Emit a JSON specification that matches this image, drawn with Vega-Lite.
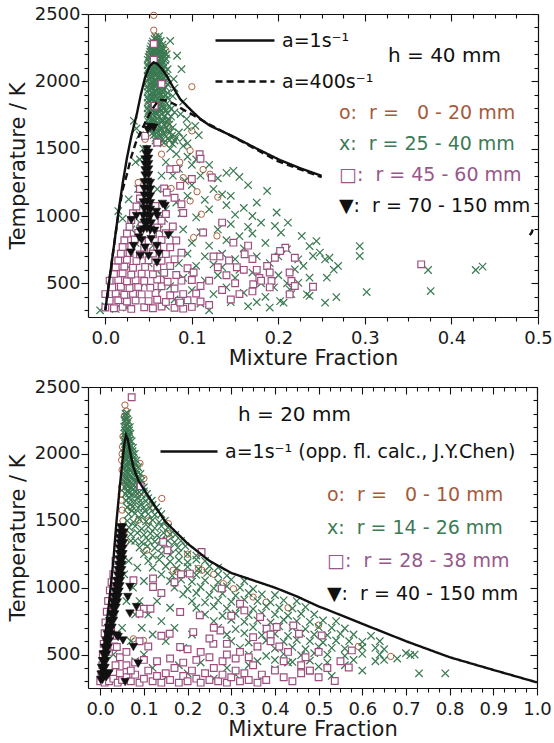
{
"$schema": "https://vega.github.io/schema/vega-lite/v6.json",
"background": "white",
"padding": {"left": 7, "top": 5, "right": 0, "bottom": 0},
"spacing": 10,
"datasets": {
"c40": [{"z":0.056,"T":2490},{"z":0.056,"T":2380},{"z":0.059,"T":2330},{"z":0.061,"T":2290},{"z":0.07,"T":2230},{"z":0.064,"T":2260},{"z":0.051,"T":2200},{"z":0.066,"T":2165},{"z":0.06,"T":2120},{"z":0.068,"T":2080},{"z":0.1,"T":1960},{"z":0.066,"T":1930},{"z":0.071,"T":1707},{"z":0.062,"T":1860},{"z":0.057,"T":1800},{"z":0.079,"T":1571},{"z":0.1,"T":1632},{"z":0.098,"T":1486},{"z":0.065,"T":1459},{"z":0.121,"T":1310},{"z":0.113,"T":1345},{"z":0.038,"T":1249},{"z":0.073,"T":1640},{"z":0.098,"T":1112},{"z":0.111,"T":1013},{"z":0.102,"T":840},{"z":0.129,"T":852},{"z":0.046,"T":1570},{"z":0.086,"T":1400},{"z":0.053,"T":1650},{"z":0.09,"T":1285},{"z":0.068,"T":1540},{"z":0.076,"T":1205},{"z":0.13,"T":1140},{"z":0.106,"T":1180},{"z":0.048,"T":1980},{"z":0.054,"T":2050}],
"x40": [{"z":0.058,"T":2330},{"z":0.062,"T":2335},{"z":0.055,"T":2295},{"z":0.06,"T":2290},{"z":0.064,"T":2300},{"z":0.053,"T":2260},{"z":0.057,"T":2255},{"z":0.061,"T":2265},{"z":0.066,"T":2250},{"z":0.052,"T":2220},{"z":0.056,"T":2225},{"z":0.06,"T":2215},{"z":0.064,"T":2222},{"z":0.068,"T":2212},{"z":0.05,"T":2180},{"z":0.054,"T":2185},{"z":0.058,"T":2175},{"z":0.062,"T":2182},{"z":0.066,"T":2178},{"z":0.07,"T":2170},{"z":0.051,"T":2140},{"z":0.055,"T":2135},{"z":0.059,"T":2145},{"z":0.063,"T":2138},{"z":0.067,"T":2142},{"z":0.05,"T":2100},{"z":0.054,"T":2095},{"z":0.058,"T":2105},{"z":0.062,"T":2098},{"z":0.066,"T":2102},{"z":0.072,"T":2090},{"z":0.052,"T":2060},{"z":0.056,"T":2065},{"z":0.06,"T":2055},{"z":0.064,"T":2062},{"z":0.068,"T":2058},{"z":0.05,"T":2020},{"z":0.054,"T":2025},{"z":0.058,"T":2015},{"z":0.062,"T":2022},{"z":0.066,"T":2018},{"z":0.07,"T":2010},{"z":0.052,"T":1980},{"z":0.056,"T":1985},{"z":0.06,"T":1975},{"z":0.064,"T":1982},{"z":0.072,"T":1978},{"z":0.05,"T":1940},{"z":0.054,"T":1945},{"z":0.058,"T":1935},{"z":0.062,"T":1942},{"z":0.067,"T":1938},{"z":0.052,"T":1900},{"z":0.056,"T":1905},{"z":0.06,"T":1895},{"z":0.065,"T":1902},{"z":0.07,"T":1898},{"z":0.078,"T":1890},{"z":0.05,"T":1860},{"z":0.054,"T":1865},{"z":0.058,"T":1855},{"z":0.063,"T":1862},{"z":0.068,"T":1858},{"z":0.052,"T":1820},{"z":0.056,"T":1825},{"z":0.061,"T":1815},{"z":0.066,"T":1822},{"z":0.074,"T":1818},{"z":0.05,"T":1780},{"z":0.054,"T":1785},{"z":0.059,"T":1775},{"z":0.064,"T":1782},{"z":0.07,"T":1778},{"z":0.08,"T":1770},{"z":0.052,"T":1740},{"z":0.057,"T":1745},{"z":0.062,"T":1735},{"z":0.068,"T":1742},{"z":0.076,"T":1738},{"z":0.05,"T":1700},{"z":0.055,"T":1705},{"z":0.06,"T":1695},{"z":0.066,"T":1702},{"z":0.072,"T":1698},{"z":0.053,"T":1660},{"z":0.058,"T":1665},{"z":0.064,"T":1655},{"z":0.07,"T":1662},{"z":0.078,"T":1658},{"z":0.055,"T":1620},{"z":0.061,"T":1625},{"z":0.067,"T":1615},{"z":0.075,"T":1622},{"z":0.058,"T":1580},{"z":0.064,"T":1585},{"z":0.072,"T":1575},{"z":0.082,"T":1582},{"z":0.06,"T":1540},{"z":0.068,"T":1545},{"z":0.078,"T":1535},
{"z":0.057,"T":2315},{"z":0.061,"T":2312},{"z":0.054,"T":2278},{"z":0.058,"T":2275},{"z":0.062,"T":2280},{"z":0.066,"T":2272},{"z":0.052,"T":2240},{"z":0.055,"T":2238},{"z":0.059,"T":2242},{"z":0.063,"T":2236},{"z":0.067,"T":2240},{"z":0.051,"T":2200},{"z":0.055,"T":2203},{"z":0.059,"T":2198},{"z":0.063,"T":2202},{"z":0.067,"T":2196},{"z":0.071,"T":2200},{"z":0.049,"T":2160},{"z":0.053,"T":2158},{"z":0.057,"T":2162},{"z":0.061,"T":2156},{"z":0.065,"T":2160},{"z":0.069,"T":2155},{"z":0.049,"T":2120},{"z":0.053,"T":2118},{"z":0.057,"T":2122},{"z":0.061,"T":2116},{"z":0.065,"T":2120},{"z":0.069,"T":2115},{"z":0.049,"T":2080},{"z":0.053,"T":2078},{"z":0.057,"T":2082},{"z":0.061,"T":2076},{"z":0.065,"T":2080},{"z":0.07,"T":2075},{"z":0.049,"T":2040},{"z":0.053,"T":2038},{"z":0.057,"T":2042},{"z":0.061,"T":2036},{"z":0.065,"T":2040},{"z":0.07,"T":2035},{"z":0.049,"T":2000},{"z":0.053,"T":1998},{"z":0.057,"T":2002},{"z":0.061,"T":1996},{"z":0.065,"T":2000},{"z":0.069,"T":1995},{"z":0.049,"T":1960},{"z":0.053,"T":1958},{"z":0.057,"T":1962},{"z":0.061,"T":1956},{"z":0.065,"T":1960},{"z":0.07,"T":1955},{"z":0.049,"T":1920},{"z":0.053,"T":1918},{"z":0.057,"T":1922},{"z":0.061,"T":1916},{"z":0.066,"T":1920},{"z":0.072,"T":1915},{"z":0.049,"T":1880},{"z":0.053,"T":1878},{"z":0.057,"T":1882},{"z":0.061,"T":1876},{"z":0.066,"T":1880},{"z":0.072,"T":1875},{"z":0.049,"T":1840},{"z":0.053,"T":1838},{"z":0.057,"T":1842},{"z":0.061,"T":1836},{"z":0.066,"T":1840},{"z":0.071,"T":1835},{"z":0.049,"T":1800},{"z":0.053,"T":1798},{"z":0.058,"T":1802},{"z":0.063,"T":1796},{"z":0.068,"T":1800},{"z":0.076,"T":1795},{"z":0.049,"T":1760},{"z":0.054,"T":1758},{"z":0.059,"T":1762},{"z":0.065,"T":1756},{"z":0.072,"T":1760},{"z":0.05,"T":1720},{"z":0.055,"T":1718},{"z":0.06,"T":1722},{"z":0.066,"T":1716},{"z":0.073,"T":1720},{"z":0.051,"T":1680},{"z":0.056,"T":1678},{"z":0.062,"T":1682},{"z":0.068,"T":1676},{"z":0.074,"T":1680},{"z":0.053,"T":1640},{"z":0.059,"T":1638},{"z":0.065,"T":1642},{"z":0.072,"T":1636},{"z":0.056,"T":1600},{"z":0.062,"T":1598},{"z":0.069,"T":1602},{"z":0.077,"T":1596},{"z":0.058,"T":1560},{"z":0.065,"T":1558},{"z":0.074,"T":1562},
{"z":0.083,"T":2190},{"z":0.088,"T":2090},{"z":0.079,"T":2017},{"z":0.087,"T":1757},{"z":0.094,"T":1720},{"z":0.104,"T":1670},{"z":0.108,"T":1600},{"z":0.09,"T":1850},{"z":0.075,"T":2300},{"z":0.08,"T":1950},{"z":0.095,"T":1540},{"z":0.09,"T":1580},{"z":0.095,"T":1660},
{"z":0.033,"T":1707},{"z":0.036,"T":1650},{"z":0.04,"T":1600},{"z":0.044,"T":1500},{"z":0.04,"T":1420},{"z":0.027,"T":1124},{"z":0.015,"T":1037},{"z":0.02,"T":980},{"z":0.03,"T":900},{"z":0.035,"T":800},{"z":0.04,"T":950},{"z":0.042,"T":1080},{"z":0.038,"T":1200},{"z":0.035,"T":1400},{"z":-0.006,"T":300},{"z":0.0,"T":330},{"z":0.005,"T":350},{"z":0.012,"T":310},{"z":0.02,"T":400},{"z":0.03,"T":600},{"z":0.025,"T":320},
{"z":0.075,"T":1500},{"z":0.082,"T":1460},{"z":0.09,"T":1520},{"z":0.095,"T":1440},{"z":0.1,"T":1380},{"z":0.105,"T":1420},{"z":0.085,"T":1350},{"z":0.078,"T":1300},{"z":0.092,"T":1260},{"z":0.1,"T":1230},{"z":0.11,"T":1300},{"z":0.12,"T":1380},{"z":0.13,"T":1280},{"z":0.14,"T":1320},{"z":0.148,"T":1335},{"z":0.155,"T":1290},{"z":0.125,"T":1200},{"z":0.135,"T":1160},{"z":0.115,"T":1120},{"z":0.095,"T":1150},{"z":0.082,"T":1100},{"z":0.07,"T":1050},{"z":0.088,"T":1020},{"z":0.105,"T":990},{"z":0.12,"T":1050},{"z":0.14,"T":1080},{"z":0.15,"T":1010},{"z":0.16,"T":1060},{"z":0.17,"T":1000},{"z":0.175,"T":1100},{"z":0.18,"T":950},{"z":0.165,"T":920},{"z":0.145,"T":940},{"z":0.13,"T":900},{"z":0.11,"T":880},{"z":0.09,"T":900},{"z":0.075,"T":860},{"z":0.1,"T":800},{"z":0.12,"T":780},{"z":0.14,"T":820},{"z":0.155,"T":850},{"z":0.17,"T":870},{"z":0.185,"T":800},{"z":0.187,"T":1186},{"z":0.196,"T":926},{"z":0.198,"T":1026},{"z":0.211,"T":951},{"z":0.203,"T":877},{"z":0.21,"T":753},{"z":0.16,"T":760},{"z":0.135,"T":720},{"z":0.115,"T":700},{"z":0.095,"T":720},{"z":0.085,"T":650},{"z":0.105,"T":630},{"z":0.125,"T":640},{"z":0.15,"T":680},{"z":0.175,"T":700},{"z":0.19,"T":650},{"z":0.2,"T":700},{"z":0.219,"T":604},{"z":0.223,"T":678},{"z":0.227,"T":852},{"z":0.24,"T":703},{"z":0.236,"T":777},{"z":0.244,"T":814},{"z":0.248,"T":728},{"z":0.254,"T":678},{"z":0.259,"T":690},{"z":0.269,"T":629},{"z":0.264,"T":601},{"z":0.256,"T":542},{"z":0.229,"T":629},{"z":0.236,"T":542},{"z":0.223,"T":504},{"z":0.213,"T":455},{"z":0.202,"T":368},{"z":0.206,"T":356},{"z":0.233,"T":418},{"z":0.236,"T":406},{"z":0.267,"T":398},{"z":0.254,"T":356},{"z":0.294,"T":777},{"z":0.294,"T":703},{"z":0.302,"T":435},{"z":0.373,"T":599},{"z":0.376,"T":443},{"z":0.428,"T":599},{"z":0.436,"T":624},
{"z":0.065,"T":560},{"z":0.075,"T":480},{"z":0.08,"T":380},{"z":0.09,"T":540},{"z":0.1,"T":450},{"z":0.11,"T":350},{"z":0.115,"T":520},{"z":0.125,"T":420},{"z":0.13,"T":560},{"z":0.14,"T":470},{"z":0.145,"T":360},{"z":0.15,"T":540},{"z":0.16,"T":430},{"z":0.165,"T":330},{"z":0.17,"T":580},{"z":0.18,"T":500},{"z":0.185,"T":400},{"z":0.195,"T":470},{"z":0.1,"T":600},{"z":0.12,"T":300},{"z":0.07,"T":330},{"z":0.06,"T":420},{"z":0.135,"T":620},{"z":0.155,"T":600},{"z":0.175,"T":360},{"z":0.19,"T":320},{"z":0.045,"T":500},{"z":0.05,"T":650},{"z":0.055,"T":780},{"z":0.062,"T":900},{"z":0.068,"T":980},{"z":0.06,"T":1200},{"z":0.065,"T":1300},{"z":0.07,"T":1400},{"z":0.2,"T":560},{"z":0.21,"T":500},{"z":0.215,"T":420},{"z":0.165,"T":1230},{"z":0.145,"T":1150},{"z":0.08,"T":1560},{"z":0.085,"T":1620}],
"s40": [{"z":0.0,"T":320},{"z":0.01,"T":315},{"z":0.02,"T":325},{"z":0.03,"T":310},{"z":0.045,"T":322},{"z":0.055,"T":315},{"z":0.065,"T":328},{"z":0.08,"T":318},{"z":0.09,"T":312},{"z":0.1,"T":325},{"z":0.005,"T":370},{"z":0.015,"T":375},{"z":0.025,"T":365},{"z":0.035,"T":372},{"z":0.05,"T":368},{"z":0.06,"T":378},{"z":0.07,"T":362},{"z":0.085,"T":370},{"z":0.095,"T":375},{"z":0.11,"T":365},{"z":0.0,"T":420},{"z":0.012,"T":425},{"z":0.022,"T":415},{"z":0.032,"T":422},{"z":0.042,"T":418},{"z":0.058,"T":428},{"z":0.075,"T":412},{"z":0.09,"T":420},{"z":0.105,"T":425},{"z":0.008,"T":470},{"z":0.018,"T":475},{"z":0.028,"T":465},{"z":0.038,"T":472},{"z":0.052,"T":468},{"z":0.065,"T":478},{"z":0.08,"T":462},{"z":0.005,"T":520},{"z":0.015,"T":525},{"z":0.025,"T":515},{"z":0.035,"T":522},{"z":0.045,"T":518},{"z":0.06,"T":528},{"z":0.072,"T":512},{"z":0.088,"T":520},{"z":0.1,"T":525},{"z":0.01,"T":570},{"z":0.02,"T":575},{"z":0.03,"T":565},{"z":0.042,"T":572},{"z":0.055,"T":568},{"z":0.068,"T":578},{"z":0.082,"T":562},{"z":0.012,"T":620},{"z":0.022,"T":625},{"z":0.032,"T":615},{"z":0.046,"T":622},{"z":0.06,"T":618},{"z":0.075,"T":628},{"z":0.095,"T":612},{"z":0.015,"T":670},{"z":0.025,"T":675},{"z":0.036,"T":665},{"z":0.05,"T":672},{"z":0.065,"T":668},{"z":0.08,"T":678},{"z":0.018,"T":720},{"z":0.028,"T":725},{"z":0.04,"T":715},{"z":0.055,"T":722},{"z":0.07,"T":718},{"z":0.088,"T":728},{"z":0.02,"T":770},{"z":0.03,"T":775},{"z":0.045,"T":765},{"z":0.06,"T":772},{"z":0.075,"T":768},{"z":0.022,"T":820},{"z":0.034,"T":825},{"z":0.05,"T":815},{"z":0.065,"T":822},{"z":0.082,"T":818},{"z":0.025,"T":870},{"z":0.038,"T":875},{"z":0.055,"T":865},{"z":0.07,"T":872},{"z":0.028,"T":920},{"z":0.042,"T":925},{"z":0.06,"T":915},{"z":0.078,"T":922},{"z":0.03,"T":970},{"z":0.046,"T":975},{"z":0.065,"T":965},{"z":0.032,"T":1020},{"z":0.05,"T":1025},{"z":0.07,"T":1015},{"z":0.09,"T":1022},{"z":0.036,"T":1070},{"z":0.058,"T":1075},{"z":0.04,"T":1130},{"z":0.08,"T":1135},{"z":0.04,"T":1200},{"z":0.068,"T":1205},
{"z":0.056,"T":2277},{"z":0.056,"T":2160},{"z":0.065,"T":1980},{"z":0.057,"T":1818},{"z":0.046,"T":1595},{"z":0.06,"T":1546},{"z":0.109,"T":1459},{"z":0.11,"T":1425},{"z":0.075,"T":1348},{"z":0.082,"T":1350},{"z":0.123,"T":1286},{"z":0.1,"T":1275},{"z":0.0865,"T":1224},{"z":0.071,"T":1174},{"z":0.088,"T":1087},{"z":0.135,"T":951},{"z":0.113,"T":877},{"z":0.148,"T":802},{"z":0.161,"T":716},{"z":0.17,"T":680},{"z":0.143,"T":670},{"z":0.187,"T":629},{"z":0.19,"T":580},{"z":0.102,"T":580},{"z":0.11,"T":480},{"z":0.0865,"T":357},{"z":0.12,"T":340},{"z":0.171,"T":493},{"z":0.178,"T":540},{"z":0.152,"T":620},{"z":0.132,"T":700},{"z":0.208,"T":765},{"z":0.202,"T":740},{"z":0.196,"T":690},{"z":0.219,"T":690},{"z":0.213,"T":580},{"z":0.215,"T":517},{"z":0.219,"T":480},{"z":0.192,"T":517},{"z":0.213,"T":418},{"z":0.24,"T":475},{"z":0.365,"T":641},{"z":0.125,"T":700},{"z":0.13,"T":620},{"z":0.14,"T":560},{"z":0.15,"T":500},{"z":0.16,"T":600},{"z":0.12,"T":520},{"z":0.135,"T":450},{"z":0.145,"T":380},{"z":0.155,"T":420},{"z":0.17,"T":440},{"z":0.18,"T":520},{"z":0.19,"T":470},{"z":0.175,"T":600},{"z":0.165,"T":780}],
"v40": [{"z":0.044,"T":900},{"z":0.048,"T":905},{"z":0.052,"T":895},{"z":0.045,"T":950},{"z":0.049,"T":955},{"z":0.053,"T":945},{"z":0.044,"T":1000},{"z":0.048,"T":1005},{"z":0.052,"T":995},{"z":0.045,"T":1050},{"z":0.049,"T":1055},{"z":0.052,"T":1045},{"z":0.044,"T":1100},{"z":0.048,"T":1105},{"z":0.052,"T":1095},{"z":0.045,"T":1150},{"z":0.049,"T":1155},{"z":0.052,"T":1145},{"z":0.045,"T":1200},{"z":0.049,"T":1205},{"z":0.052,"T":1195},{"z":0.045,"T":1250},{"z":0.049,"T":1255},{"z":0.052,"T":1245},{"z":0.046,"T":1300},{"z":0.05,"T":1305},{"z":0.046,"T":1340},{"z":0.05,"T":1345},{"z":0.046,"T":1380},{"z":0.05,"T":1385},{"z":0.046,"T":1420},{"z":0.05,"T":1425},{"z":0.047,"T":1460},{"z":0.05,"T":1470},{"z":0.048,"T":1495},{"z":0.069,"T":1075},{"z":0.059,"T":1030},{"z":0.03,"T":969},{"z":0.0404,"T":889},{"z":0.06,"T":1000},{"z":0.073,"T":857},{"z":0.0327,"T":777},{"z":0.046,"T":765},{"z":0.0596,"T":777},{"z":0.0296,"T":728},{"z":0.0404,"T":703},{"z":0.05,"T":703},{"z":0.062,"T":720},{"z":0.0596,"T":654},{"z":0.053,"T":827},{"z":0.039,"T":840},{"z":0.047,"T":950},{"z":0.057,"T":890},{"z":0.052,"T":1660},{"z":0.056,"T":1655},{"z":0.049,"T":1640},{"z":0.066,"T":1090},{"z":0.036,"T":1000},{"z":0.042,"T":820}],
"l40": [{"a":"1","seg":"m","z":0,"T":300},{"a":"1","seg":"m","z":0.005,"T":540},{"a":"1","seg":"m","z":0.01,"T":780},{"a":"1","seg":"m","z":0.015,"T":1020},{"a":"1","seg":"m","z":0.02,"T":1240},{"a":"1","seg":"m","z":0.025,"T":1430},{"a":"1","seg":"m","z":0.03,"T":1590},{"a":"1","seg":"m","z":0.0365,"T":1760},{"a":"1","seg":"m","z":0.041,"T":1900},{"a":"1","seg":"m","z":0.046,"T":2030},{"a":"1","seg":"m","z":0.051,"T":2110},{"a":"1","seg":"m","z":0.0557,"T":2141},{"a":"1","seg":"m","z":0.06,"T":2130},{"a":"1","seg":"m","z":0.065,"T":2095},{"a":"1","seg":"m","z":0.071,"T":2041},{"a":"1","seg":"m","z":0.078,"T":1960},{"a":"1","seg":"m","z":0.0865,"T":1868},{"a":"1","seg":"m","z":0.1,"T":1780},{"a":"1","seg":"m","z":0.11,"T":1720},{"a":"1","seg":"m","z":0.121,"T":1670},{"a":"1","seg":"m","z":0.148,"T":1590},{"a":"1","seg":"m","z":0.175,"T":1500},{"a":"1","seg":"m","z":0.202,"T":1415},{"a":"1","seg":"m","z":0.225,"T":1355},{"a":"1","seg":"m","z":0.25,"T":1298},
{"a":"1","seg":"f","z":0.4905,"T":858},{"a":"1","seg":"f","z":0.4925,"T":875},{"a":"1","seg":"f","z":0.494,"T":900},
{"a":"400","seg":"d","z":0,"T":300},{"a":"400","seg":"d","z":0.005,"T":540},{"a":"400","seg":"d","z":0.01,"T":778},{"a":"400","seg":"d","z":0.015,"T":1010},{"a":"400","seg":"d","z":0.02,"T":1195},{"a":"400","seg":"d","z":0.025,"T":1310},{"a":"400","seg":"d","z":0.03,"T":1440},{"a":"400","seg":"d","z":0.035,"T":1540},{"a":"400","seg":"d","z":0.04,"T":1610},{"a":"400","seg":"d","z":0.045,"T":1680},{"a":"400","seg":"d","z":0.05,"T":1745},{"a":"400","seg":"d","z":0.055,"T":1800},{"a":"400","seg":"d","z":0.06,"T":1845},{"a":"400","seg":"d","z":0.064,"T":1862},{"a":"400","seg":"d","z":0.07,"T":1858},{"a":"400","seg":"d","z":0.08,"T":1830},{"a":"400","seg":"d","z":0.09,"T":1790},{"a":"400","seg":"d","z":0.1,"T":1755},{"a":"400","seg":"d","z":0.12,"T":1680},{"a":"400","seg":"d","z":0.15,"T":1580},{"a":"400","seg":"d","z":0.2,"T":1405},{"a":"400","seg":"d","z":0.25,"T":1288}],
"c20": [{"z":0.0566,"T":2365},{"z":0.06,"T":2320},{"z":0.055,"T":2280},{"z":0.057,"T":2203},{"z":0.052,"T":2130},{"z":0.051,"T":2053},{"z":0.049,"T":1953},{"z":0.05,"T":1880},{"z":0.049,"T":1754},{"z":0.048,"T":1654},{"z":0.05,"T":1580},{"z":0.052,"T":1500},{"z":0.055,"T":1420},{"z":0.058,"T":1340},{"z":0.05,"T":2000},{"z":0.054,"T":1800},{"z":0.06,"T":2250},{"z":0.048,"T":1700},{"z":0.091,"T":1929},{"z":0.1,"T":1816},{"z":0.141,"T":1667},{"z":0.087,"T":1504},{"z":0.156,"T":1479},{"z":0.106,"T":1280},{"z":0.167,"T":1130},{"z":0.177,"T":1117},{"z":0.225,"T":1143},{"z":0.233,"T":1130},{"z":0.282,"T":1030},{"z":0.305,"T":992},{"z":0.35,"T":930},{"z":0.38,"T":892},{"z":0.156,"T":1404},{"z":0.099,"T":606},{"z":0.076,"T":618},{"z":0.591,"T":561},{"z":0.665,"T":486},{"z":0.2,"T":1250},{"z":0.26,"T":1100},{"z":0.12,"T":1600},{"z":0.43,"T":850},{"z":0.5,"T":720},{"z":0.07,"T":1600},{"z":0.065,"T":1750},{"z":0.11,"T":1500}],
"x20": [{"z":0.058,"T":2300},{"z":0.062,"T":2305},{"z":0.056,"T":2250},{"z":0.06,"T":2255},{"z":0.065,"T":2245},{"z":0.055,"T":2200},{"z":0.059,"T":2205},{"z":0.063,"T":2195},{"z":0.068,"T":2200},{"z":0.056,"T":2150},{"z":0.06,"T":2155},{"z":0.064,"T":2145},{"z":0.069,"T":2150},{"z":0.055,"T":2100},{"z":0.059,"T":2105},{"z":0.063,"T":2095},{"z":0.067,"T":2100},{"z":0.072,"T":2095},{"z":0.056,"T":2050},{"z":0.06,"T":2055},{"z":0.064,"T":2045},{"z":0.069,"T":2050},{"z":0.075,"T":2045},{"z":0.055,"T":2000},{"z":0.059,"T":2005},{"z":0.063,"T":1995},{"z":0.068,"T":2000},{"z":0.073,"T":1995},{"z":0.079,"T":2000},{"z":0.056,"T":1950},{"z":0.06,"T":1955},{"z":0.065,"T":1945},{"z":0.07,"T":1950},{"z":0.076,"T":1945},{"z":0.083,"T":1950},{"z":0.055,"T":1900},{"z":0.06,"T":1905},{"z":0.066,"T":1895},{"z":0.072,"T":1900},{"z":0.079,"T":1895},{"z":0.087,"T":1900},{"z":0.056,"T":1850},{"z":0.062,"T":1855},{"z":0.068,"T":1845},{"z":0.075,"T":1850},{"z":0.083,"T":1845},{"z":0.092,"T":1850},{"z":0.055,"T":1800},{"z":0.061,"T":1805},{"z":0.068,"T":1795},{"z":0.076,"T":1800},{"z":0.085,"T":1795},{"z":0.095,"T":1800},{"z":0.056,"T":1750},{"z":0.063,"T":1755},{"z":0.071,"T":1745},{"z":0.08,"T":1750},{"z":0.09,"T":1745},{"z":0.1,"T":1750},{"z":0.058,"T":1700},{"z":0.066,"T":1705},{"z":0.075,"T":1695},{"z":0.085,"T":1700},{"z":0.095,"T":1695},{"z":0.107,"T":1700},{"z":0.06,"T":1650},{"z":0.07,"T":1655},{"z":0.08,"T":1645},{"z":0.092,"T":1650},{"z":0.105,"T":1645},{"z":0.118,"T":1650},{"z":0.062,"T":1600},{"z":0.074,"T":1605},{"z":0.087,"T":1595},{"z":0.1,"T":1600},{"z":0.114,"T":1595},{"z":0.128,"T":1600},{"z":0.065,"T":1550},{"z":0.08,"T":1555},{"z":0.095,"T":1545},{"z":0.11,"T":1550},{"z":0.125,"T":1545},{"z":0.14,"T":1550},
{"z":0.058,"T":2275},{"z":0.062,"T":2225},{"z":0.057,"T":2175},{"z":0.066,"T":2175},{"z":0.058,"T":2125},{"z":0.065,"T":2125},{"z":0.057,"T":2075},{"z":0.066,"T":2075},{"z":0.058,"T":2025},{"z":0.066,"T":2025},{"z":0.074,"T":2020},{"z":0.057,"T":1975},{"z":0.066,"T":1975},{"z":0.076,"T":1970},{"z":0.058,"T":1925},{"z":0.069,"T":1925},{"z":0.08,"T":1920},{"z":0.058,"T":1875},{"z":0.07,"T":1875},{"z":0.084,"T":1870},{"z":0.058,"T":1825},{"z":0.072,"T":1825},{"z":0.088,"T":1820},{"z":0.06,"T":1775},{"z":0.075,"T":1775},{"z":0.092,"T":1770},{"z":0.062,"T":1725},{"z":0.08,"T":1725},{"z":0.1,"T":1720},{"z":0.065,"T":1675},{"z":0.086,"T":1675},{"z":0.11,"T":1670},{"z":0.068,"T":1625},{"z":0.093,"T":1625},{"z":0.12,"T":1620},{"z":0.072,"T":1575},{"z":0.102,"T":1575},{"z":0.132,"T":1570},
{"z":0.062,"T":1500},{"z":0.076,"T":1490},{"z":0.09,"T":1510},{"z":0.105,"T":1495},{"z":0.12,"T":1505},{"z":0.135,"T":1490},{"z":0.148,"T":1500},{"z":0.066,"T":1450},{"z":0.08,"T":1460},{"z":0.095,"T":1440},{"z":0.11,"T":1455},{"z":0.125,"T":1445},{"z":0.14,"T":1460},{"z":0.155,"T":1450},{"z":0.07,"T":1400},{"z":0.085,"T":1410},{"z":0.1,"T":1395},{"z":0.115,"T":1405},{"z":0.13,"T":1390},{"z":0.145,"T":1410},{"z":0.16,"T":1400},{"z":0.172,"T":1395},{"z":0.08,"T":1350},{"z":0.095,"T":1340},{"z":0.11,"T":1355},{"z":0.125,"T":1345},{"z":0.14,"T":1360},{"z":0.155,"T":1350},{"z":0.17,"T":1340},{"z":0.185,"T":1350},{"z":0.09,"T":1300},{"z":0.108,"T":1310},{"z":0.125,"T":1295},{"z":0.142,"T":1305},{"z":0.16,"T":1290},{"z":0.178,"T":1300},{"z":0.195,"T":1310},{"z":0.1,"T":1250},{"z":0.12,"T":1240},{"z":0.14,"T":1255},{"z":0.16,"T":1245},{"z":0.18,"T":1260},{"z":0.2,"T":1250},{"z":0.22,"T":1240},{"z":0.11,"T":1200},{"z":0.135,"T":1210},{"z":0.16,"T":1195},{"z":0.18,"T":1205},{"z":0.2,"T":1190},{"z":0.22,"T":1210},{"z":0.24,"T":1200},{"z":0.12,"T":1150},{"z":0.15,"T":1160},{"z":0.175,"T":1145},{"z":0.2,"T":1155},{"z":0.225,"T":1140},{"z":0.25,"T":1160},{"z":0.27,"T":1150},{"z":0.14,"T":1100},{"z":0.165,"T":1090},{"z":0.19,"T":1105},{"z":0.22,"T":1095},{"z":0.245,"T":1110},{"z":0.27,"T":1100},{"z":0.29,"T":1090},{"z":0.16,"T":1050},{"z":0.185,"T":1060},{"z":0.21,"T":1045},{"z":0.24,"T":1055},{"z":0.27,"T":1040},{"z":0.3,"T":1060},{"z":0.33,"T":1050},{"z":0.17,"T":1000},{"z":0.2,"T":990},{"z":0.23,"T":1005},{"z":0.26,"T":995},{"z":0.29,"T":1010},{"z":0.32,"T":1000},{"z":0.35,"T":990},{"z":0.19,"T":950},{"z":0.22,"T":960},{"z":0.25,"T":945},{"z":0.28,"T":955},{"z":0.31,"T":940},{"z":0.34,"T":960},{"z":0.37,"T":950},{"z":0.4,"T":945},{"z":0.21,"T":900},{"z":0.24,"T":890},{"z":0.27,"T":905},{"z":0.3,"T":895},{"z":0.33,"T":910},{"z":0.36,"T":900},{"z":0.39,"T":890},{"z":0.42,"T":905},{"z":0.45,"T":900},{"z":0.22,"T":850},{"z":0.26,"T":860},{"z":0.29,"T":845},{"z":0.32,"T":855},{"z":0.35,"T":840},{"z":0.38,"T":860},{"z":0.41,"T":850},{"z":0.44,"T":845},{"z":0.47,"T":855},{"z":0.24,"T":800},{"z":0.28,"T":790},{"z":0.31,"T":805},{"z":0.34,"T":795},{"z":0.37,"T":810},{"z":0.4,"T":800},{"z":0.43,"T":790},{"z":0.46,"T":805},{"z":0.49,"T":800},{"z":0.26,"T":750},{"z":0.3,"T":760},{"z":0.33,"T":745},{"z":0.36,"T":755},{"z":0.39,"T":740},{"z":0.42,"T":760},{"z":0.45,"T":750},{"z":0.48,"T":745},{"z":0.51,"T":755},{"z":0.54,"T":750},{"z":0.27,"T":700},{"z":0.31,"T":690},{"z":0.35,"T":705},{"z":0.38,"T":695},{"z":0.41,"T":710},{"z":0.44,"T":700},{"z":0.47,"T":690},{"z":0.5,"T":705},{"z":0.53,"T":700},{"z":0.56,"T":695},{"z":0.29,"T":650},{"z":0.33,"T":660},{"z":0.37,"T":645},{"z":0.4,"T":655},{"z":0.43,"T":640},{"z":0.46,"T":660},{"z":0.49,"T":650},{"z":0.52,"T":645},{"z":0.55,"T":655},{"z":0.58,"T":650},{"z":0.62,"T":640},{"z":0.3,"T":600},{"z":0.34,"T":590},{"z":0.38,"T":605},{"z":0.42,"T":595},{"z":0.45,"T":610},{"z":0.48,"T":600},{"z":0.51,"T":590},{"z":0.54,"T":605},{"z":0.57,"T":600},{"z":0.6,"T":595},{"z":0.64,"T":600},{"z":0.32,"T":550},{"z":0.36,"T":560},{"z":0.4,"T":545},{"z":0.44,"T":555},{"z":0.47,"T":540},{"z":0.5,"T":560},{"z":0.53,"T":550},{"z":0.56,"T":545},{"z":0.6,"T":555},{"z":0.63,"T":550},{"z":0.65,"T":540},{"z":0.34,"T":500},{"z":0.38,"T":490},{"z":0.42,"T":505},{"z":0.46,"T":495},{"z":0.49,"T":510},{"z":0.52,"T":500},{"z":0.56,"T":490},{"z":0.6,"T":505},{"z":0.64,"T":500},{"z":0.7,"T":510},{"z":0.71,"T":495},{"z":0.36,"T":450},{"z":0.4,"T":460},{"z":0.44,"T":445},{"z":0.48,"T":455},{"z":0.52,"T":440},{"z":0.58,"T":460},{"z":0.63,"T":450},
{"z":0.12,"T":400},{"z":0.15,"T":330},{"z":0.18,"T":420},{"z":0.2,"T":360},{"z":0.23,"T":440},{"z":0.26,"T":320},{"z":0.29,"T":400},{"z":0.31,"T":350},{"z":0.34,"T":420},{"z":0.37,"T":330},{"z":0.4,"T":390},{"z":0.43,"T":440},{"z":0.46,"T":360},{"z":0.5,"T":410},{"z":0.53,"T":340},{"z":0.56,"T":420},{"z":0.6,"T":380},{"z":0.65,"T":460},{"z":0.73,"T":360},{"z":0.79,"T":360},{"z":0.68,"T":470},{"z":0.72,"T":500},
{"z":0.02,"T":350},{"z":0.03,"T":500},{"z":0.05,"T":700},{"z":0.07,"T":600},{"z":0.08,"T":800},{"z":0.075,"T":1000},{"z":0.09,"T":900},{"z":0.085,"T":1150},{"z":0.1,"T":1050},{"z":0.095,"T":700},{"z":0.11,"T":800},{"z":0.12,"T":650},{"z":0.13,"T":900},{"z":0.14,"T":750},{"z":0.15,"T":600},{"z":0.16,"T":850},{"z":0.17,"T":700},{"z":0.19,"T":550},{"z":0.21,"T":650},{"z":0.1,"T":500},{"z":0.08,"T":450},{"z":0.06,"T":900},{"z":0.065,"T":1200},{"z":0.07,"T":1350},{"z":0.055,"T":1100}],
"s20": [{"z":0.0,"T":300},{"z":0.003,"T":350},{"z":0.005,"T":420},{"z":0.006,"T":500},{"z":0.008,"T":580},{"z":0.01,"T":660},{"z":0.012,"T":740},{"z":0.015,"T":820},{"z":0.018,"T":900},{"z":0.022,"T":980},{"z":0.026,"T":1040},{"z":0.03,"T":1100},{"z":0.035,"T":1200},{"z":0.04,"T":1300},{"z":0.045,"T":1400},{"z":0.02,"T":520},{"z":0.025,"T":700},{"z":0.03,"T":800},{"z":0.032,"T":560},{"z":0.038,"T":640},
{"z":0.01,"T":290},{"z":0.02,"T":300},{"z":0.03,"T":320},{"z":0.04,"T":290},{"z":0.05,"T":310},{"z":0.06,"T":330},{"z":0.07,"T":300},{"z":0.08,"T":350},{"z":0.09,"T":290},{"z":0.1,"T":320},{"z":0.11,"T":380},{"z":0.12,"T":300},{"z":0.13,"T":340},{"z":0.14,"T":290},{"z":0.15,"T":360},{"z":0.16,"T":310},{"z":0.17,"T":400},{"z":0.18,"T":290},{"z":0.19,"T":340},{"z":0.2,"T":300},{"z":0.21,"T":380},{"z":0.22,"T":320},{"z":0.23,"T":290},{"z":0.24,"T":360},{"z":0.25,"T":310},{"z":0.26,"T":400},{"z":0.27,"T":300},{"z":0.28,"T":350},{"z":0.29,"T":290},{"z":0.3,"T":330},{"z":0.31,"T":380},{"z":0.32,"T":300},{"z":0.33,"T":360},{"z":0.34,"T":310},{"z":0.35,"T":420},{"z":0.36,"T":290},{"z":0.37,"T":350},{"z":0.38,"T":310},{"z":0.4,"T":380},{"z":0.42,"T":330},{"z":0.44,"T":300},{"z":0.46,"T":360},{"z":0.48,"T":380},{"z":0.5,"T":330},{"z":0.537,"T":302},{"z":0.52,"T":400},{"z":0.06,"T":420},{"z":0.08,"T":440},{"z":0.1,"T":460},{"z":0.13,"T":450},{"z":0.16,"T":470},{"z":0.19,"T":440},{"z":0.22,"T":460},{"z":0.25,"T":480},{"z":0.28,"T":450},{"z":0.31,"T":470},{"z":0.07,"T":380},{"z":0.045,"T":360},{"z":0.035,"T":420},
{"z":0.072,"T":2423},{"z":0.0925,"T":1759},{"z":0.144,"T":1342},{"z":0.154,"T":1280},{"z":0.232,"T":1267},{"z":0.205,"T":1105},{"z":0.185,"T":1100},{"z":0.121,"T":1068},{"z":0.17,"T":1040},{"z":0.121,"T":1005},{"z":0.14,"T":960},{"z":0.076,"T":1055},{"z":0.1,"T":842},{"z":0.115,"T":842},{"z":0.183,"T":818},{"z":0.228,"T":793},{"z":0.278,"T":993},{"z":0.32,"T":880},{"z":0.33,"T":830},{"z":0.366,"T":780},{"z":0.3,"T":790},{"z":0.381,"T":693},{"z":0.39,"T":650},{"z":0.275,"T":680},{"z":0.26,"T":700},{"z":0.213,"T":668},{"z":0.159,"T":655},{"z":0.14,"T":640},{"z":0.09,"T":806},{"z":0.183,"T":556},{"z":0.2,"T":540},{"z":0.259,"T":580},{"z":0.29,"T":580},{"z":0.35,"T":630},{"z":0.39,"T":600},{"z":0.038,"T":556},{"z":0.045,"T":480},{"z":0.06,"T":520},{"z":0.09,"T":600},{"z":0.11,"T":560},{"z":0.404,"T":706},{"z":0.442,"T":718},{"z":0.455,"T":655},{"z":0.507,"T":643},{"z":0.576,"T":531},{"z":0.41,"T":560},{"z":0.43,"T":520},{"z":0.47,"T":480},{"z":0.5,"T":520},{"z":0.569,"T":403},{"z":0.55,"T":450},{"z":0.48,"T":380},{"z":0.46,"T":420},{"z":0.42,"T":450},{"z":0.23,"T":520},{"z":0.25,"T":620},{"z":0.32,"T":520},{"z":0.36,"T":560},{"z":0.34,"T":480},{"z":0.29,"T":500}],
"v20": [{"z":0.047,"T":1450},{"z":0.051,"T":1450},{"z":0.046,"T":1410},{"z":0.05,"T":1410},{"z":0.054,"T":1410},{"z":0.045,"T":1370},{"z":0.049,"T":1370},{"z":0.053,"T":1370},{"z":0.045,"T":1330},{"z":0.049,"T":1330},{"z":0.053,"T":1330},{"z":0.044,"T":1290},{"z":0.048,"T":1290},{"z":0.052,"T":1290},{"z":0.044,"T":1250},{"z":0.048,"T":1250},{"z":0.052,"T":1250},{"z":0.043,"T":1210},{"z":0.047,"T":1210},{"z":0.051,"T":1210},{"z":0.042,"T":1170},{"z":0.046,"T":1170},{"z":0.05,"T":1170},{"z":0.041,"T":1130},{"z":0.045,"T":1130},{"z":0.049,"T":1130},{"z":0.04,"T":1090},{"z":0.044,"T":1090},{"z":0.048,"T":1090},{"z":0.038,"T":1050},{"z":0.042,"T":1050},{"z":0.046,"T":1050},{"z":0.036,"T":1010},{"z":0.04,"T":1010},{"z":0.045,"T":1010},{"z":0.034,"T":970},{"z":0.038,"T":970},{"z":0.043,"T":970},{"z":0.032,"T":930},{"z":0.036,"T":930},{"z":0.041,"T":930},{"z":0.03,"T":890},{"z":0.034,"T":890},{"z":0.039,"T":890},{"z":0.028,"T":850},{"z":0.032,"T":850},{"z":0.036,"T":850},{"z":0.025,"T":800},{"z":0.029,"T":800},{"z":0.033,"T":800},{"z":0.022,"T":750},{"z":0.026,"T":750},{"z":0.03,"T":750},{"z":0.019,"T":700},{"z":0.023,"T":700},{"z":0.027,"T":700},{"z":0.016,"T":650},{"z":0.02,"T":650},{"z":0.024,"T":650},{"z":0.013,"T":600},{"z":0.017,"T":600},{"z":0.021,"T":600},{"z":0.01,"T":550},{"z":0.014,"T":550},{"z":0.018,"T":550},{"z":0.007,"T":500},{"z":0.011,"T":500},{"z":0.015,"T":500},{"z":0.005,"T":450},{"z":0.009,"T":450},{"z":0.013,"T":450},{"z":0.003,"T":400},{"z":0.007,"T":400},{"z":0.011,"T":400},{"z":0.002,"T":350},{"z":0.006,"T":350},{"z":0.01,"T":350},{"z":0.001,"T":310},{"z":0.005,"T":310},
{"z":0.068,"T":1005},{"z":0.083,"T":855},{"z":0.063,"T":930},{"z":0.037,"T":643},{"z":0.076,"T":556},{"z":0.087,"T":432},{"z":0.057,"T":294},{"z":0.068,"T":806},{"z":0.041,"T":631},{"z":0.052,"T":606},{"z":0.02,"T":360},{"z":0.014,"T":330}],
"l20": [{"a":"1","seg":"m","z":0,"T":300},{"a":"1","seg":"m","z":0.01,"T":600},{"a":"1","seg":"m","z":0.02,"T":880},{"a":"1","seg":"m","z":0.03,"T":1200},{"a":"1","seg":"m","z":0.0375,"T":1504},{"a":"1","seg":"m","z":0.045,"T":1760},{"a":"1","seg":"m","z":0.05,"T":1920},{"a":"1","seg":"m","z":0.055,"T":2070},{"a":"1","seg":"m","z":0.059,"T":2140},{"a":"1","seg":"m","z":0.063,"T":2110},{"a":"1","seg":"m","z":0.07,"T":1990},{"a":"1","seg":"m","z":0.076,"T":1900},{"a":"1","seg":"m","z":0.087,"T":1803},{"a":"1","seg":"m","z":0.106,"T":1704},{"a":"1","seg":"m","z":0.125,"T":1610},{"a":"1","seg":"m","z":0.15,"T":1490},{"a":"1","seg":"m","z":0.2,"T":1330},{"a":"1","seg":"m","z":0.25,"T":1200},{"a":"1","seg":"m","z":0.3,"T":1110},{"a":"1","seg":"m","z":0.35,"T":1055},{"a":"1","seg":"m","z":0.4,"T":1000},{"a":"1","seg":"m","z":0.45,"T":935},{"a":"1","seg":"m","z":0.5,"T":860},{"a":"1","seg":"m","z":0.52,"T":835},{"a":"1","seg":"m","z":0.6,"T":730},{"a":"1","seg":"m","z":0.7,"T":600},{"a":"1","seg":"m","z":0.8,"T":480},{"a":"1","seg":"m","z":0.9,"T":385},{"a":"1","seg":"m","z":1.0,"T":292}]
},
"vconcat": [
{
"width": 450, "height": 303,
"title": {"text": "h = 40 mm", "anchor": "start", "frame": "group", "orient": "top", "offset": 0, "dx": 300, "dy": 77, "baseline": "alphabetic", "fontSize": 20, "font": "DejaVu Sans", "fontWeight": "normal", "color": "#111111"},
"layer": [
{"data": {"name": "c40"}, "mark": {"type": "point", "shape": "circle", "filled": false, "size": 40, "strokeWidth": 1, "opacity": 1},
"encoding": {
"x": {"field": "z", "type": "quantitative", "scale": {"domain": [-0.02, 0.5], "nice": false, "zero": false}, "axis": {"orient": "bottom", "values": [0, 0.1, 0.2, 0.3, 0.4, 0.5], "format": ".1f", "tickSize": 7, "labelPadding": 5, "title": "Mixture Fraction", "titlePadding": 0}},
"y": {"field": "T", "type": "quantitative", "scale": {"domain": [250, 2500], "nice": false, "zero": false}, "axis": {"orient": "left", "values": [500, 1000, 1500, 2000, 2500], "format": "d", "tickSize": 7, "labelPadding": 1, "title": "Temperature / K", "titlePadding": 6}},
"stroke": {"datum": "c", "scale": {"domain": ["c", "x", "s", "v"], "range": ["#b0603c", "#3a7a52", "#9e4f80", "#111111"]},
 "legend": {"orient": "none", "legendX": 232, "legendY": 89, "title": null, "direction": "vertical", "symbolSize": 0, "symbolOpacity": 0, "symbolStrokeWidth": 0, "labelOffset": 0, "labelFontSize": 19, "labelFont": "DejaVu Sans", "rowPadding": 11, "labelLimit": 500,
  "labelColor": {"expr": "datum.value === 'c' ? '#a55a3c' : datum.value === 'x' ? '#3d7a56' : datum.value === 's' ? '#97578a' : '#111111'"},
  "labelExpr": "datum.value === 'c' ? 'o:\u00a0\u00a0r =\u00a0\u00a0\u00a00 - 20 mm' : datum.value === 'x' ? 'x:\u00a0\u00a0r = 25 - 40 mm' : datum.value === 's' ? '\u25a1:\u00a0\u00a0r = 45 - 60 mm' : '\u25bc:\u00a0\u00a0r = 70 - 150 mm'"}}
}},
{"data": {"name": "x40"}, "mark": {"type": "point", "shape": "M-1,-1L1,1M1,-1L-1,1", "filled": false, "size": 55, "strokeWidth": 1.2, "opacity": 1},
"encoding": {
"x": {"field": "z", "type": "quantitative", "axis": {"orient": "bottom", "values": [0.025, 0.05, 0.075, 0.125, 0.15, 0.175, 0.225, 0.25, 0.275, 0.325, 0.35, 0.375, 0.425, 0.45, 0.475], "tickSize": 4, "labels": false, "domain": false, "title": null}},
"y": {"field": "T", "type": "quantitative", "axis": {"orient": "left", "values": [300, 400, 600, 700, 800, 900, 1100, 1200, 1300, 1400, 1600, 1700, 1800, 1900, 2100, 2200, 2300, 2400], "tickSize": 4, "labels": false, "domain": false, "title": null}},
"stroke": {"datum": "x"}
}},
{"data": {"name": "s40"}, "mark": {"type": "point", "shape": "square", "filled": true, "fill": "white", "size": 45, "strokeWidth": 1.2, "opacity": 1},
"encoding": {
"x": {"field": "z", "type": "quantitative", "axis": {"orient": "top", "values": [0, 0.1, 0.2, 0.3, 0.4, 0.5], "tickSize": -7, "labels": false, "title": null}},
"y": {"field": "T", "type": "quantitative", "axis": {"orient": "right", "values": [500, 1000, 1500, 2000, 2500], "tickSize": -7, "labels": false, "title": null}},
"stroke": {"datum": "s"}
}},
{"data": {"name": "v40"}, "mark": {"type": "point", "shape": "triangle-down", "filled": true, "fill": "#111111", "size": 75, "strokeWidth": 0.5, "opacity": 1},
"encoding": {
"x": {"field": "z", "type": "quantitative", "axis": {"orient": "top", "values": [0.025, 0.05, 0.075, 0.125, 0.15, 0.175, 0.225, 0.25, 0.275, 0.325, 0.35, 0.375, 0.425, 0.45, 0.475], "tickSize": -4, "labels": false, "domain": false, "title": null}},
"y": {"field": "T", "type": "quantitative", "axis": {"orient": "right", "values": [300, 400, 600, 700, 800, 900, 1100, 1200, 1300, 1400, 1600, 1700, 1800, 1900, 2100, 2200, 2300, 2400], "tickSize": -4, "labels": false, "domain": false, "title": null}},
"stroke": {"datum": "v"}
}},
{"data": {"name": "l40"}, "mark": {"type": "line", "color": "#111111", "strokeWidth": 2.4},
"encoding": {
"x": {"field": "z", "type": "quantitative", "axis": null},
"y": {"field": "T", "type": "quantitative", "axis": null},
"detail": {"field": "seg"},
"strokeDash": {"field": "a", "type": "nominal", "scale": {"domain": ["1", "400"], "range": [[1, 0], [7, 4]]},
 "legend": {"orient": "none", "legendX": 126, "legendY": -4.5, "title": null, "symbolType": "stroke", "symbolSize": 3481, "symbolStrokeWidth": 2.5, "symbolStrokeColor": "#111111", "labelOffset": 6, "labelFontSize": 19, "labelFont": "DejaVu Sans", "labelColor": "#111111", "rowPadding": -21, "labelLimit": 500, "labelExpr": "'a=' + datum.label + 's\u207b\u00b9'"}}
}}
],
"resolve": {"axis": {"x": "independent", "y": "independent"}}
},
{
"width": 449, "height": 301,
"title": {"text": "h = 20 mm", "anchor": "start", "frame": "group", "orient": "top", "offset": 0, "dx": 150, "dy": 63, "baseline": "alphabetic", "fontSize": 20, "font": "DejaVu Sans", "fontWeight": "normal", "color": "#111111"},
"layer": [
{"data": {"name": "c20"}, "mark": {"type": "point", "shape": "circle", "filled": false, "size": 40, "strokeWidth": 1, "opacity": 1},
"encoding": {
"x": {"field": "z", "type": "quantitative", "scale": {"domain": [-0.028, 1.0], "nice": false, "zero": false}, "axis": {"orient": "bottom", "values": [0, 0.1, 0.2, 0.3, 0.4, 0.5, 0.6, 0.7, 0.8, 0.9, 1.0], "format": ".1f", "tickSize": 7, "labelPadding": 5, "title": "Mixture Fraction", "titlePadding": 0}},
"y": {"field": "T", "type": "quantitative", "scale": {"domain": [250, 2500], "nice": false, "zero": false}, "axis": {"orient": "left", "values": [500, 1000, 1500, 2000, 2500], "format": "d", "tickSize": 7, "labelPadding": 1, "title": "Temperature / K", "titlePadding": 6}},
"stroke": {"datum": "c", "scale": {"domain": ["c", "x", "s", "v"], "range": ["#b0603c", "#3a7a52", "#9e4f80", "#111111"]},
 "legend": {"orient": "none", "legendX": 220, "legendY": 98, "title": null, "direction": "vertical", "symbolSize": 0, "symbolOpacity": 0, "symbolStrokeWidth": 0, "labelOffset": 0, "labelFontSize": 19, "labelFont": "DejaVu Sans", "rowPadding": 13, "labelLimit": 500,
  "labelColor": {"expr": "datum.value === 'c' ? '#a55a3c' : datum.value === 'x' ? '#3d7a56' : datum.value === 's' ? '#97578a' : '#111111'"},
  "labelExpr": "datum.value === 'c' ? 'o:\u00a0\u00a0r =\u00a0\u00a0\u00a00 - 10 mm' : datum.value === 'x' ? 'x:\u00a0\u00a0r = 14 - 26 mm' : datum.value === 's' ? '\u25a1:\u00a0\u00a0r = 28 - 38 mm' : '\u25bc:\u00a0\u00a0r = 40 - 150 mm'"}}
}},
{"data": {"name": "x20"}, "mark": {"type": "point", "shape": "M-1,-1L1,1M1,-1L-1,1", "filled": false, "size": 55, "strokeWidth": 1.25, "opacity": 1},
"encoding": {
"x": {"field": "z", "type": "quantitative", "axis": {"orient": "bottom", "values": [0.025, 0.05, 0.075, 0.125, 0.15, 0.175, 0.225, 0.25, 0.275, 0.325, 0.35, 0.375, 0.425, 0.45, 0.475, 0.525, 0.55, 0.575, 0.625, 0.65, 0.675, 0.725, 0.75, 0.775, 0.825, 0.85, 0.875, 0.925, 0.95, 0.975], "tickSize": 4, "labels": false, "domain": false, "title": null}},
"y": {"field": "T", "type": "quantitative", "axis": {"orient": "left", "values": [300, 400, 600, 700, 800, 900, 1100, 1200, 1300, 1400, 1600, 1700, 1800, 1900, 2100, 2200, 2300, 2400], "tickSize": 4, "labels": false, "domain": false, "title": null}},
"stroke": {"datum": "x"}
}},
{"data": {"name": "s20"}, "mark": {"type": "point", "shape": "square", "filled": true, "fill": "white", "size": 45, "strokeWidth": 1.2, "opacity": 1},
"encoding": {
"x": {"field": "z", "type": "quantitative", "axis": {"orient": "top", "values": [0, 0.1, 0.2, 0.3, 0.4, 0.5, 0.6, 0.7, 0.8, 0.9, 1.0], "tickSize": -7, "labels": false, "title": null}},
"y": {"field": "T", "type": "quantitative", "axis": {"orient": "right", "values": [500, 1000, 1500, 2000, 2500], "tickSize": -7, "labels": false, "title": null}},
"stroke": {"datum": "s"}
}},
{"data": {"name": "v20"}, "mark": {"type": "point", "shape": "triangle-down", "filled": true, "fill": "#111111", "size": 75, "strokeWidth": 0.5, "opacity": 1},
"encoding": {
"x": {"field": "z", "type": "quantitative", "axis": {"orient": "top", "values": [0.025, 0.05, 0.075, 0.125, 0.15, 0.175, 0.225, 0.25, 0.275, 0.325, 0.35, 0.375, 0.425, 0.45, 0.475, 0.525, 0.55, 0.575, 0.625, 0.65, 0.675, 0.725, 0.75, 0.775, 0.825, 0.85, 0.875, 0.925, 0.95, 0.975], "tickSize": -4, "labels": false, "domain": false, "title": null}},
"y": {"field": "T", "type": "quantitative", "axis": {"orient": "right", "values": [300, 400, 600, 700, 800, 900, 1100, 1200, 1300, 1400, 1600, 1700, 1800, 1900, 2100, 2200, 2300, 2400], "tickSize": -4, "labels": false, "domain": false, "title": null}},
"stroke": {"datum": "v"}
}},
{"data": {"name": "l20"}, "mark": {"type": "line", "color": "#111111", "strokeWidth": 2.4},
"encoding": {
"x": {"field": "z", "type": "quantitative", "axis": null},
"y": {"field": "T", "type": "quantitative", "axis": null},
"detail": {"field": "seg"},
"strokeDash": {"field": "a", "type": "nominal", "scale": {"domain": ["1"], "range": [[1, 0]]},
 "legend": {"orient": "none", "legendX": 71, "legendY": 34.5, "title": null, "symbolType": "stroke", "symbolSize": 3249, "symbolStrokeWidth": 2.5, "symbolStrokeColor": "#111111", "labelOffset": 6, "labelFontSize": 19, "labelFont": "DejaVu Sans", "labelColor": "#111111", "labelLimit": 500, "labelExpr": "'a=1s\u207b\u00b9 (opp. fl. calc., J.Y.Chen)'"}}
}}
],
"resolve": {"axis": {"x": "independent", "y": "independent"}}
}
],
"resolve": {"scale": {"stroke": "independent", "strokeDash": "independent"}, "legend": {"stroke": "independent", "strokeDash": "independent"}},
"config": {
"font": "DejaVu Sans",
"view": {"stroke": null},
"axis": {"domainColor": "#111111", "domainWidth": 1.2, "tickColor": "#111111", "tickWidth": 1.1, "labelFont": "DejaVu Sans", "labelFontSize": 18, "labelColor": "#1a1a1a", "titleFont": "DejaVu Sans", "titleFontSize": 21, "titleFontWeight": "normal", "titleColor": "#1a1a1a", "grid": false, "labelFlush": false, "labelOverlap": false, "labelBound": false},
"legend": {"labelFont": "DejaVu Sans", "padding": 0}
}
}
